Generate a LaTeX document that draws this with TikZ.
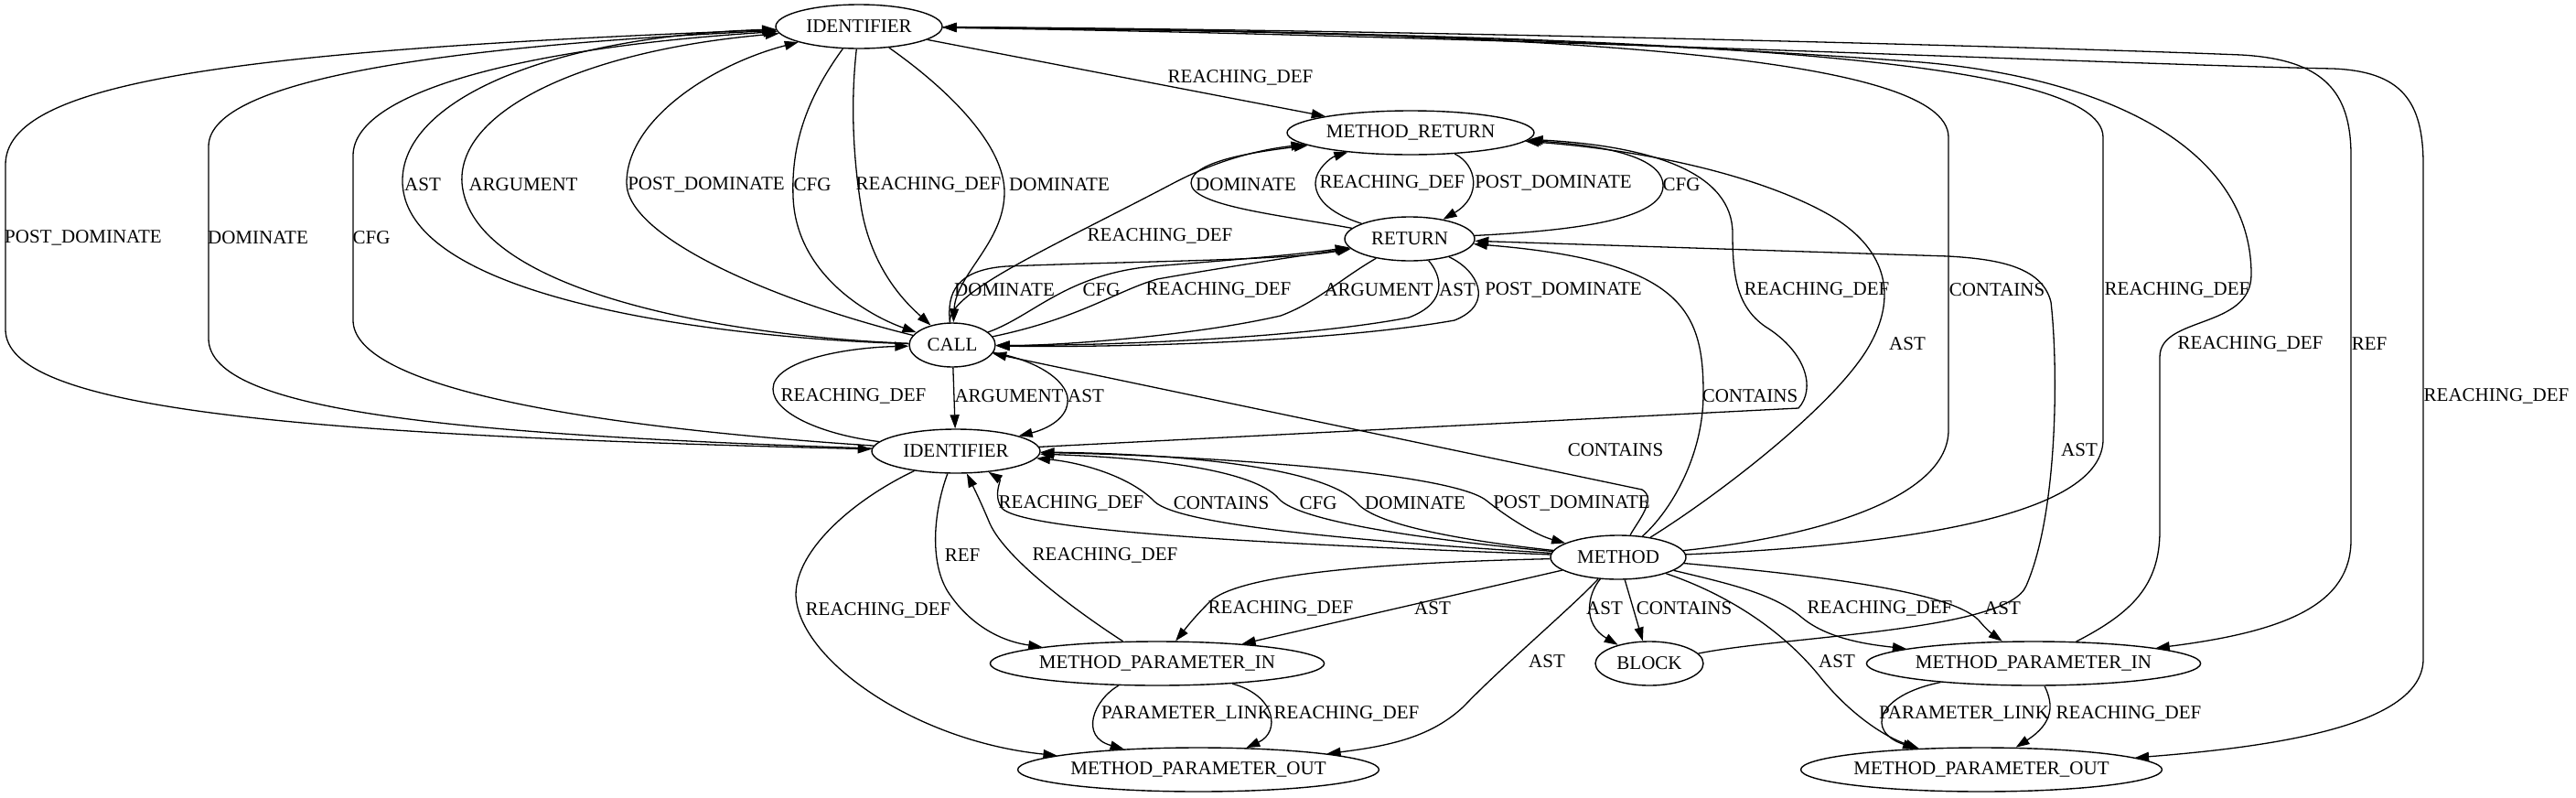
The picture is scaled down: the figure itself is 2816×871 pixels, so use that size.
\documentclass[tikz,border=0pt]{standalone}
\usepackage{fontspec}
\setmainfont{Liberation Serif}
\usetikzlibrary{shapes.geometric,arrows.meta}
\newcommand\labfont{\fontsize{21pt}{25pt}\selectfont}
\tikzset{
 nd/.style={draw, ellipse, line width=1.4pt, inner sep=0pt, minimum height=48pt, font=\labfont},
 ed/.style={line width=1.3pt, -{Triangle[length=15pt,width=10pt]}},
 lb/.style={inner sep=0pt, font=\labfont}
}
\begin{document}
\begin{tikzpicture}[x=1pt,y=-1pt]
\fill[white] (0,0) rectangle (2816,871);
\useasboundingbox (0,0) rectangle (2816,871);
% nodes
\node[nd, minimum width=182pt] (I1) at (939,29) {IDENTIFIER};
\node[nd, minimum width=270pt] (MR) at (1542,145) {METHOD\_RETURN};
\node[nd, minimum width=142pt] (RET) at (1541,261) {RETURN};
\node[nd, minimum width=94pt] (CALL) at (1041,377) {CALL};
\node[nd, minimum width=184pt] (I2) at (1045,493) {IDENTIFIER};
\node[nd, minimum width=148pt] (M) at (1769,609) {METHOD};
\node[nd, minimum width=118pt] (BLK) at (1803,725) {BLOCK};
\node[nd, minimum width=362pt] (PIL) at (1265,725) {METHOD\_PARAMETER\_IN};
\node[nd, minimum width=362pt] (PIR) at (2223,725) {METHOD\_PARAMETER\_IN};
\node[nd, minimum width=390pt] (POL) at (1310,841) {METHOD\_PARAMETER\_OUT};
\node[nd, minimum width=390pt] (POR) at (2166,841) {METHOD\_PARAMETER\_OUT};
% I1 edges
\draw[ed] (I1) -- (MR) node[lb] at (1356,85) {REACHING\_DEF};
\draw[ed] (CALL) .. controls (800,370) and (445,330) .. (440,200) .. controls (437,110) and (600,40) .. (I1) node[lb] at (462,202) {AST};
\draw[ed] (CALL) .. controls (800,368) and (515,320) .. (505,200) .. controls (500,120) and (640,55) .. (I1) node[lb] at (572,202) {ARGUMENT};
\draw[ed] (CALL) .. controls (850,330) and (685,260) .. (685,200) .. controls (685,130) and (780,70) .. (I1) node[lb] at (772,202) {POST\_DOMINATE};
\draw[ed] (I1) .. controls (880,110) and (865,160) .. (867,215) .. controls (870,300) and (950,345) .. (CALL) node[lb] at (888,202) {CFG};
\draw[ed] (I1) .. controls (930,110) and (932,170) .. (942,230) .. controls (955,300) and (995,335) .. (CALL) node[lb] at (1015,202) {REACHING\_DEF};
\draw[ed] (I1) .. controls (1040,100) and (1098,160) .. (1098,210) .. controls (1098,265) and (1045,300) .. (CALL) node[lb] at (1158,202) {DOMINATE};
\draw[ed] (I1) .. controls (250,55) and (6,90) .. (6,180) -- (6,360) .. controls (6,445) and (300,475) .. (I2) node[lb] at (91,260) {POST\_DOMINATE};
\draw[ed] (I2) .. controls (500,475) and (228,450) .. (228,370) -- (228,160) .. controls (228,85) and (500,50) .. (I1) node[lb] at (282,260) {DOMINATE};
\draw[ed] (I2) .. controls (620,465) and (386,420) .. (386,350) -- (386,170) .. controls (386,95) and (600,50) .. (I1) node[lb] at (406,260) {CFG};
\draw[ed] (M) .. controls (2000,585) and (2130,540) .. (2130,470) -- (2130,150) .. controls (2130,60) and (1700,35) .. (I1) node[lb] at (2183,317) {CONTAINS};
\draw[ed] (M) .. controls (2100,595) and (2299,560) .. (2299,480) -- (2299,150) .. controls (2299,60) and (1800,38) .. (I1) node[lb] at (2380,317) {REACHING\_DEF};
\draw[ed] (PIR) .. controls (2330,670) and (2361,640) .. (2361,580) -- (2361,390) .. controls (2361,345) and (2461,360) .. (2461,300) .. controls (2461,160) and (2300,85) .. (2100,68) .. controls (1800,45) and (1400,33) .. (I1) node[lb] at (2460,376) {REACHING\_DEF};
\draw[ed] (I1) .. controls (1500,32) and (2200,50) .. (2450,60) .. controls (2540,65) and (2570,100) .. (2570,170) -- (2570,590) .. controls (2570,660) and (2500,690) .. (PIR) node[lb] at (2590,376) {REF};
\draw[ed] (I1) .. controls (1600,38) and (2300,70) .. (2550,75) .. controls (2625,78) and (2649,110) .. (2649,180) -- (2649,720) .. controls (2649,790) and (2500,815) .. (POR) node[lb] at (2729,433) {REACHING\_DEF};
% METHOD_RETURN edges
\draw[ed] (RET) .. controls (1400,235) and (1302,225) .. (1302,200) .. controls (1302,175) and (1380,165) .. (MR) node[lb] at (1362,202) {DOMINATE};
\draw[ed] (RET) .. controls (1450,232) and (1438,215) .. (1438,200) .. controls (1438,185) and (1455,172) .. (MR) node[lb] at (1522,200) {REACHING\_DEF};
\draw[ed] (MR) .. controls (1615,180) and (1620,215) .. (RET) node[lb] at (1698,200) {POST\_DOMINATE};
\draw[ed] (RET) .. controls (1720,252) and (1818,240) .. (1818,203) .. controls (1818,168) and (1740,158) .. (MR) node[lb] at (1838,202) {CFG};
\draw[ed] (CALL) .. controls (1035,320) and (1150,270) .. (1283,200) .. controls (1340,170) and (1390,162) .. (MR) node[lb] at (1268,258) {REACHING\_DEF};
\draw[ed] (I2) -- (1966,446) .. controls (1985,425) and (1975,385) .. (1930,357) .. controls (1898,335) and (1894,300) .. (1894,255) .. controls (1894,190) and (1810,160) .. (MR) node[lb] at (1986,317) {REACHING\_DEF};
\draw[ed] (M) .. controls (1880,540) and (2010,440) .. (2045,375) .. controls (2075,320) and (2060,270) .. (2000,235) .. controls (1930,195) and (1810,165) .. (MR) node[lb] at (2085,376) {AST};
% RETURN edges
\draw[ed] (CALL) .. controls (1035,320) and (1045,295) .. (1100,291) .. controls (1250,285) and (1400,285) .. (RET) node[lb] at (1098,317) {DOMINATE};
\draw[ed] (CALL) .. controls (1130,345) and (1165,300) .. (1260,291) .. controls (1350,284) and (1420,278) .. (RET) node[lb] at (1204,317) {CFG};
\draw[ed] (CALL) .. controls (1180,348) and (1220,318) .. (1265,305) .. controls (1350,290) and (1420,280) .. (RET) node[lb] at (1332,317) {REACHING\_DEF};
\draw[ed] (RET) .. controls (1465,305) and (1440,330) .. (1400,345) .. controls (1300,368) and (1150,378) .. (CALL) node[lb] at (1507,317) {ARGUMENT};
\draw[ed] (RET) .. controls (1575,300) and (1585,330) .. (1540,347) .. controls (1420,370) and (1200,378) .. (CALL) node[lb] at (1593,317) {AST};
\draw[ed] (RET) .. controls (1615,295) and (1635,332) .. (1590,350) .. controls (1450,375) and (1200,380) .. (CALL) node[lb] at (1709,317) {POST\_DOMINATE};
\draw[ed] (M) .. controls (1825,560) and (1862,500) .. (1862,430) .. controls (1862,340) and (1840,285) .. (RET) node[lb] at (1913,433) {CONTAINS};
\draw[ed] (BLK) .. controls (1950,695) and (2195,690) .. (2215,640) .. controls (2250,560) and (2250,400) .. (2242,330) .. controls (2232,290) and (2180,283) .. (2130,280) -- (RET) node[lb] at (2273,492) {AST};
% CALL edges
\draw[ed] (I2) .. controls (900,475) and (845,452) .. (845,425) .. controls (845,395) and (920,380) .. (CALL) node[lb] at (933,433) {REACHING\_DEF};
\draw[ed] (CALL) -- (I2) node[lb] at (1103,433) {ARGUMENT};
\draw[ed] (CALL) .. controls (1140,395) and (1170,420) .. (1167,440) .. controls (1165,460) and (1140,470) .. (I2) node[lb] at (1187,433) {AST};
\draw[ed] (M) .. controls (1790,570) and (1812,545) .. (1795,535) -- (CALL) node[lb] at (1766,492) {CONTAINS};
% IDENTIFIER (mid) edges
\draw[ed] (M) .. controls (1500,598) and (1120,585) .. (1095,555) .. controls (1085,540) and (1095,525) .. (I2) node[lb] at (1171,550) {REACHING\_DEF};
\draw[ed] (M) .. controls (1500,592) and (1290,575) .. (1262,548) .. controls (1235,520) and (1180,505) .. (I2) node[lb] at (1335,550) {CONTAINS};
\draw[ed] (M) .. controls (1560,590) and (1420,570) .. (1398,545) .. controls (1370,512) and (1250,500) .. (I2) node[lb] at (1441,550) {CFG};
\draw[ed] (M) .. controls (1610,592) and (1505,575) .. (1484,550) .. controls (1450,512) and (1300,496) .. (I2) node[lb] at (1547,550) {DOMINATE};
\draw[ed] (I2) .. controls (1300,497) and (1585,515) .. (1625,547) .. controls (1650,567) and (1680,585) .. (M) node[lb] at (1718,550) {POST\_DOMINATE};
\draw[ed] (I2) .. controls (1020,560) and (1015,620) .. (1040,652) .. controls (1060,680) and (1090,700) .. (PIL) node[lb] at (1052,607) {REF};
\draw[ed] (PIL) .. controls (1180,670) and (1100,612) .. (1082,572) .. controls (1072,548) and (1064,532) .. (I2) node[lb] at (1208,607) {REACHING\_DEF};
\draw[ed] (I2) .. controls (935,545) and (870,600) .. (870,650) .. controls (872,720) and (1000,810) .. (POL) node[lb] at (960,667) {REACHING\_DEF};
% METHOD edges
\draw[ed] (M) .. controls (1500,615) and (1352,628) .. (1322,658) .. controls (1302,678) and (1292,692) .. (PIL) node[lb] at (1400,665) {REACHING\_DEF};
\draw[ed] (M) -- (PIL) node[lb] at (1566,665) {AST};
\draw[ed] (M) .. controls (1735,650) and (1730,682) .. (BLK) node[lb] at (1754,665) {AST};
\draw[ed] (M) -- (BLK) node[lb] at (1841,665) {CONTAINS};
\draw[ed] (M) .. controls (1720,662) and (1640,730) .. (1600,772) .. controls (1565,805) and (1520,815) .. (POL) node[lb] at (1691,723) {AST};
\draw[ed] (M) .. controls (1900,640) and (1940,650) .. (1970,675) .. controls (2000,700) and (2050,705) .. (PIR) node[lb] at (2055,665) {REACHING\_DEF};
\draw[ed] (M) .. controls (2000,630) and (2140,648) .. (2165,680) .. controls (2175,692) and (2185,698) .. (PIR) node[lb] at (2189,665) {AST};
\draw[ed] (M) .. controls (1890,650) and (1950,690) .. (1990,740) .. controls (2022,780) and (2060,805) .. (POR) node[lb] at (2008,723) {AST};
% parameter edges
\draw[ed] (PIL) .. controls (1195,765) and (1180,805) .. (POL) node[lb] at (1297,780) {PARAMETER\_LINK};
\draw[ed] (PIL) .. controls (1395,760) and (1400,800) .. (POL) node[lb] at (1472,780) {REACHING\_DEF};
\draw[ed] (PIR) .. controls (2050,760) and (2040,800) .. (POR) node[lb] at (2147,780) {PARAMETER\_LINK};
\draw[ed] (PIR) .. controls (2245,770) and (2245,790) .. (POR) node[lb] at (2327,780) {REACHING\_DEF};
\end{tikzpicture}
\end{document}
